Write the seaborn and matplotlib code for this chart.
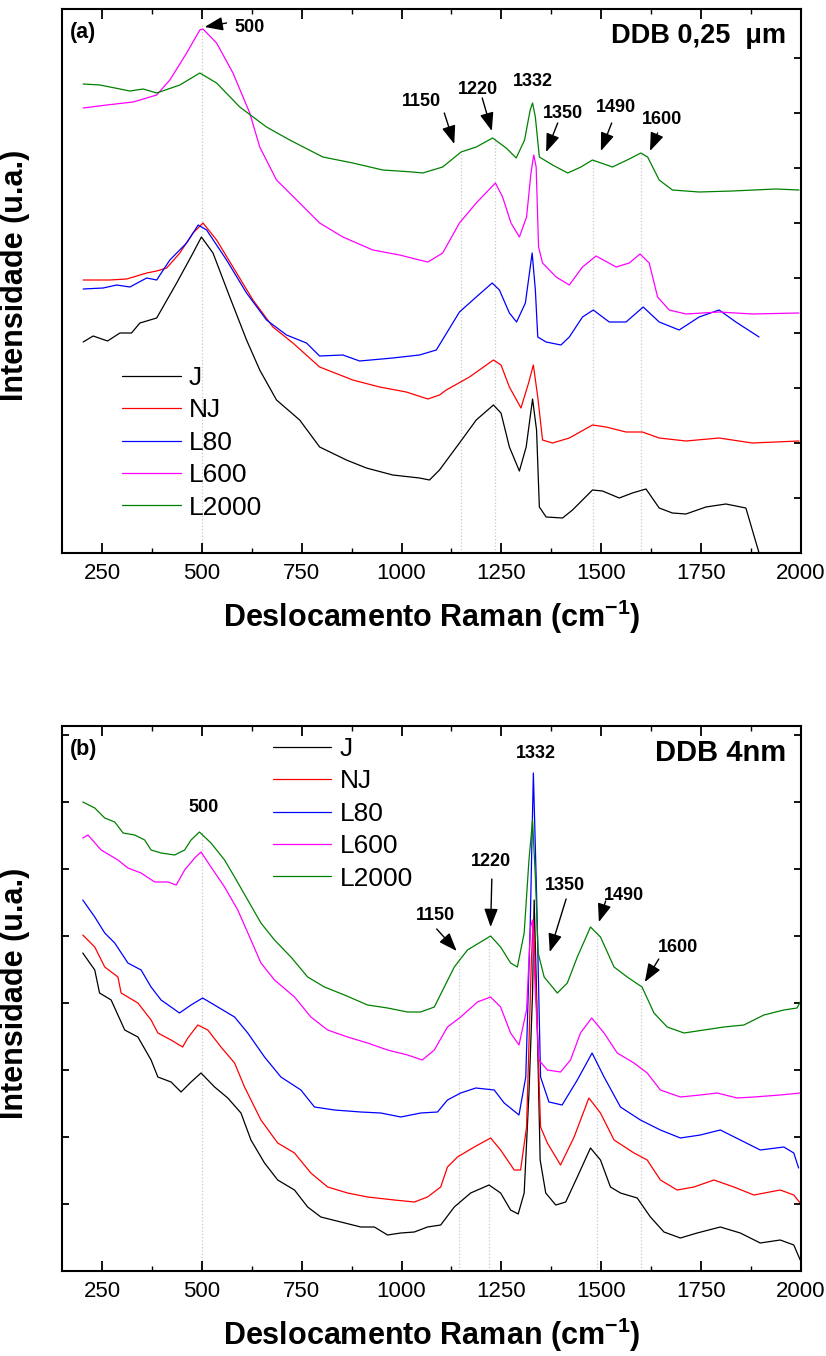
import matplotlib
matplotlib.use("Agg")
import matplotlib.pyplot as plt
from matplotlib.ticker import MultipleLocator, NullLocator
import pandas as pd
import seaborn as sns

amostras = ["J", "NJ", "L80", "L600", "L2000"]
cores = ["#000000", "#ff0000", "#0000ff", "#ff00ff", "#008000"]

# ---- (a) DDB 0,25 um  (intensidade em u.a.)
a_J_x = [203, 228, 264, 295, 324, 345, 387, 437, 478, 499, 528, 570, 612, 645, 687, 745, 795, 862, 912, 978,
         1045, 1070, 1095, 1145, 1187, 1230, 1249, 1270, 1295, 1312, 1328, 1338, 1345, 1362, 1403, 1428, 1478,
         1503, 1545, 1578, 1612, 1645, 1678, 1712, 1762, 1812, 1862, 1895, 1905]
a_J_y = [211, 217, 212, 220, 220, 230, 235, 270, 300, 316, 300, 256, 213, 183, 153, 133, 106, 93, 85, 78,
         75, 73, 83, 110, 133, 148, 140, 106, 82, 106, 154, 123, 46, 36, 35, 43, 63,
         62, 55, 60, 64, 45, 40, 39, 46, 49, 45, 0, -20]

a_NJ_x = [203, 270, 312, 362, 387, 412, 445, 478, 503, 537, 578, 628, 678, 728, 795, 878, 945, 1012, 1066, 1095,
          1112, 1170, 1230, 1249, 1270, 1299, 1318, 1330, 1341, 1353, 1378, 1420, 1478, 1512, 1562, 1603, 1645,
          1712, 1795, 1878, 1995]
a_NJ_y = [273, 273, 274, 280, 282, 285, 300, 320, 330, 313, 286, 253, 226, 210, 186, 173, 166, 161, 154, 158,
          163, 176, 193, 188, 166, 145, 170, 188, 156, 113, 110, 115, 128, 126, 121, 121, 115,
          112, 115, 110, 112]

a_L80_x = [203, 253, 287, 320, 362, 387, 420, 462, 491, 512, 562, 612, 662, 712, 762, 795, 853, 895, 978, 1045,
           1087, 1145, 1187, 1227, 1245, 1270, 1288, 1310, 1327, 1335, 1341, 1362, 1399, 1420, 1453, 1480, 1520,
           1562, 1605, 1645, 1695, 1745, 1795, 1837, 1895]
a_L80_y = [264, 265, 268, 266, 275, 273, 293, 310, 328, 323, 293, 260, 233, 218, 210, 197, 198, 192, 195, 198,
           203, 241, 256, 270, 263, 240, 231, 250, 300, 263, 216, 211, 208, 216, 236, 243, 231,
           231, 246, 231, 223, 236, 243, 231, 216]

a_L600_x = [203, 262, 328, 387, 420, 462, 495, 503, 537, 578, 620, 645, 687, 745, 795, 853, 928, 995, 1045, 1066,
            1103, 1145, 1187, 1235, 1253, 1274, 1295, 1313, 1324, 1331, 1337, 1343, 1353, 1387, 1420, 1453, 1487,
            1537, 1570, 1597, 1620, 1641, 1670, 1712, 1795, 1878, 1995]
a_L600_y = [445, 448, 451, 458, 473, 500, 523, 524, 510, 480, 440, 406, 373, 350, 330, 316, 303, 298, 293, 291,
            300, 330, 350, 370, 356, 330, 316, 336, 380, 398, 386, 306, 290, 276, 268, 286, 297,
            286, 290, 299, 290, 256, 243, 239, 241, 239, 240]

a_L2000_x = [203, 245, 320, 353, 387, 445, 495, 537, 595, 662, 720, 803, 878, 953, 1028, 1053, 1103, 1149, 1187,
             1228, 1262, 1287, 1308, 1322, 1328, 1335, 1345, 1378, 1416, 1449, 1478, 1528, 1570, 1599, 1616, 1645,
             1678, 1745, 1828, 1937, 1995]
a_L2000_y = [469, 468, 462, 464, 460, 468, 480, 470, 446, 426, 413, 396, 390, 383, 381, 380, 386, 401, 406,
             415, 405, 395, 413, 443, 450, 436, 396, 388, 380, 386, 393, 386, 394, 400, 396, 373,
             363, 361, 362, 364, 363]

# ---- (b) DDB 4nm
b_J_x = [202, 232, 244, 273, 307, 340, 373, 390, 423, 448, 473, 498, 532, 565, 598, 623, 657, 690, 732, 765, 798,
         848, 898, 932, 965, 998, 1032, 1065, 1098, 1132, 1173, 1219, 1248, 1273, 1292, 1307, 1319, 1328, 1332,
         1338, 1347, 1361, 1386, 1411, 1440, 1473, 1498, 1523, 1548, 1590, 1623, 1657, 1698, 1740, 1798, 1848,
         1898, 1948, 1982, 1998]
b_J_y = [318, 301, 278, 271, 241, 234, 211, 194, 189, 179, 189, 198, 184, 173, 158, 131, 108, 91, 81, 64, 54,
         49, 44, 44, 36, 38, 39, 44, 46, 64, 78, 86, 78, 61, 57, 78, 178, 278, 371,
         278, 111, 78, 66, 69, 94, 123, 111, 84, 78, 73, 54, 39, 33, 38, 44, 38,
         28, 31, 26, 11]

b_NJ_x = [202, 232, 257, 290, 298, 340, 373, 390, 423, 452, 465, 490, 515, 548, 582, 607, 648, 690, 732, 773, 815,
          865, 915, 982, 1032, 1065, 1098, 1115, 1140, 1182, 1223, 1248, 1282, 1298, 1313, 1325, 1330, 1337, 1348,
          1365, 1398, 1432, 1469, 1498, 1532, 1582, 1615, 1648, 1690, 1732, 1782, 1832, 1882, 1948, 1982, 1998]
b_NJ_y = [336, 324, 304, 294, 278, 268, 251, 238, 231, 224, 233, 246, 241, 224, 208, 184, 151, 128, 118, 98, 84,
          78, 74, 71, 69, 74, 84, 104, 114, 124, 133, 121, 101, 101, 144, 311, 351, 278, 144,
          128, 106, 134, 173, 158, 131, 118, 111, 91, 81, 84, 91, 84, 76, 81, 76, 68]

b_L80_x = [202, 232, 257, 282, 315, 348, 373, 398, 423, 444, 473, 502, 540, 582, 615, 657, 698, 748, 782, 832, 898,
           948, 998, 1048, 1090, 1115, 1148, 1186, 1232, 1257, 1294, 1311, 1322, 1330, 1338, 1348, 1369, 1402,
           1440, 1477, 1507, 1548, 1598, 1648, 1698, 1748, 1798, 1848, 1898, 1957, 1982, 1994]
b_L80_y = [371, 354, 338, 328, 308, 301, 284, 271, 264, 258, 266, 273, 264, 254, 238, 214, 194, 181, 164, 161, 159,
           158, 154, 158, 159, 171, 178, 183, 181, 168, 156, 194, 344, 498, 378, 194, 169, 166,
           191, 218, 194, 164, 151, 141, 133, 136, 141, 131, 121, 124, 118, 103]

b_L600_x = [202, 215, 248, 290, 315, 348, 382, 415, 436, 457, 482, 498, 523, 557, 590, 623, 648, 682, 732, 773,
            815, 865, 915, 965, 1015, 1052, 1082, 1115, 1148, 1190, 1223, 1248, 1273, 1294, 1313, 1323, 1328,
            1335, 1344, 1365, 1398, 1423, 1448, 1476, 1507, 1540, 1582, 1615, 1648, 1698, 1748, 1790, 1840,
            1882, 1948, 1998]
b_L600_y = [433, 436, 421, 411, 403, 398, 389, 389, 386, 401, 413, 419, 404, 384, 361, 331, 308, 291, 274, 254,
            241, 234, 228, 221, 216, 211, 221, 244, 254, 269, 274, 264, 238, 226, 261, 344, 351,
            278, 211, 201, 199, 211, 238, 253, 238, 218, 208, 198, 181, 174, 176, 178, 173,
            174, 176, 178]

b_L2000_x = [202, 232, 257, 282, 303, 332, 357, 373, 398, 432, 457, 473, 494, 523, 557, 582, 615, 648, 682, 723,
             765, 807, 857, 915, 965, 1015, 1048, 1082, 1107, 1132, 1165, 1198, 1223, 1248, 1273, 1290, 1307,
             1319, 1328, 1335, 1342, 1357, 1390, 1415, 1440, 1473, 1498, 1532, 1565, 1602, 1632, 1665, 1707,
             1757, 1807, 1857, 1907, 1957, 1990, 1998]
b_L2000_y = [469, 463, 453, 449, 438, 436, 431, 421, 418, 416, 421, 431, 439, 428, 411, 394, 371, 348, 331, 314,
             294, 284, 276, 266, 263, 259, 259, 264, 284, 304, 321, 329, 335, 324, 308, 304, 338,
             411, 451, 394, 318, 294, 278, 288, 314, 344, 334, 304, 294, 284, 258, 244, 238,
             241, 244, 246, 256, 261, 263, 269]

# picos marcados (linhas pontilhadas)
a_picos = [500, 1150, 1235, 1480, 1600]
a_picos_top = [530, 401, 415, 393, 400]
b_picos = [500, 1145, 1220, 1490, 1600]
b_picos_top = [440, 318, 335, 340, 284]

# rotulos: (texto, posicao do texto, cauda da seta, ponta da seta)
a_rotulos = [
    ("500", (620, 526), (562, 530), (507, 526)),
    ("1150", (1049, 451), (1107, 440), (1132, 409)),
    ("1220", (1191, 463), (1202, 455), (1226, 422)),
    ("1332", (1328, 471), None, None),
    ("1350", (1403, 440), (1391, 430), (1362, 401)),
    ("1490", (1537, 445), (1526, 430), (1499, 402)),
    ("1600", (1653, 433), (1641, 420), (1622, 402)),
]
b_rotulos = [
    ("500", (505, 463), None, None),
    ("1332", (1336, 518), None, None),
    ("1150", (1084, 356), (1088, 342), (1138, 320)),
    ("1220", (1223, 409), (1226, 392), (1223, 344)),
    ("1350", (1409, 385), (1412, 372), (1371, 319)),
    ("1490", (1557, 376), (1511, 370), (1494, 349)),
    ("1600", (1691, 324), (1644, 312), (1609, 289)),
]


def long_df(series):
    frames = []
    for nome, (xs, ys) in zip(amostras, series):
        frames.append(pd.DataFrame({"raman": xs, "intens": ys, "amostra": nome}))
    return pd.concat(frames, ignore_index=True)


sns.set_style("ticks")
plt.rcParams["font.family"] = ["Liberation Sans", "DejaVu Sans"]
plt.rcParams["mathtext.fontset"] = "custom"
plt.rcParams["mathtext.rm"] = "Liberation Sans"
plt.rcParams["mathtext.bf"] = "Liberation Sans:bold"
for k in ["text.color", "axes.labelcolor", "xtick.color", "ytick.color", "axes.edgecolor"]:
    plt.rcParams[k] = "black"

fig = plt.figure(figsize=(8.26, 13.56), dpi=100)
ax1 = fig.add_axes([62 / 826, (1356 - 553) / 1356, 739 / 826, 544 / 1356])
ax2 = fig.add_axes([62 / 826, (1356 - 1271) / 1356, 739 / 826, 545 / 1356])

df_a = long_df([(a_J_x, a_J_y), (a_NJ_x, a_NJ_y), (a_L80_x, a_L80_y),
                (a_L600_x, a_L600_y), (a_L2000_x, a_L2000_y)])
df_b = long_df([(b_J_x, b_J_y), (b_NJ_x, b_NJ_y), (b_L80_x, b_L80_y),
                (b_L600_x, b_L600_y), (b_L2000_x, b_L2000_y)])

# (ax, dados, picos, topos, rotulos, ymax, letra, titulo, tam. titulo, legenda, passo y, ticks esq.)
paineis = [
    (ax1, df_a, a_picos, a_picos_top, a_rotulos, 544, "(a)", "DDB 0,25  \u03bcm", 19.5,
     (0.081, 0.344), 55, False),
    (ax2, df_b, b_picos, b_picos_top, b_rotulos, 545, "(b)", "DDB 4nm", 21,
     (0.285, 0.98), 67, True),
]

for ax, df, picos, topos, rotulos, ymax, letra, titulo, tsize, leg_pos, ystep, yleft in paineis:
    ax.vlines(picos, 0, topos, colors="#c8c8c8", linestyles=":", linewidth=0.9, zorder=0)
    sns.lineplot(data=df, x="raman", y="intens", hue="amostra", hue_order=amostras,
                 palette=cores, estimator=None, sort=False, linewidth=0.9, ax=ax)
    ax.set_xlim(150, 2000)
    ax.set_ylim(0, ymax)
    ax.xaxis.set_major_locator(MultipleLocator(250))
    ax.xaxis.set_minor_locator(MultipleLocator(125))
    ax.yaxis.set_major_locator(MultipleLocator(ystep))
    ax.yaxis.set_minor_locator(NullLocator())
    ax.tick_params(which="both", direction="in", top=True, right=True)
    ax.tick_params(which="major", length=7, width=1.3, labelsize=16, pad=7)
    ax.tick_params(which="minor", length=3.5, width=1.0)
    ax.tick_params(axis="y", which="major", length=5, labelleft=False, left=yleft)
    for sp in ax.spines.values():
        sp.set_linewidth(1.5)

    ax.set_xlabel(r"Deslocamento Raman (cm$^{\mathbf{-1}}$)", fontsize=22,
                  fontweight="bold", labelpad=10)
    ax.set_ylabel("Intensidade (u.a.)", fontsize=22, fontweight="bold")
    ax.yaxis.set_label_coords(-0.043, 0.51)

    for txt, pos, tail, tip in rotulos:
        ax.text(pos[0], pos[1], txt, fontsize=13, fontweight="bold", ha="center", va="center")
        if tail is not None:
            ax.annotate("", xy=tip, xytext=tail,
                        arrowprops=dict(arrowstyle="-|>,head_length=0.8,head_width=0.3",
                                        color="black", lw=1.0, shrinkA=0, shrinkB=0,
                                        mutation_scale=14))

    ax.text(0.01, 0.956, letra, transform=ax.transAxes, fontsize=15.5, fontweight="bold",
            ha="left", va="center")
    ax.text(0.98, 0.95, titulo, transform=ax.transAxes, fontsize=tsize, fontweight="bold",
            ha="right", va="center")

    handles, labels = ax.get_legend_handles_labels()
    ax.legend(handles, labels, loc="upper left", bbox_to_anchor=leg_pos, frameon=False,
              fontsize=19, handlelength=2.23, handletextpad=0.3, labelspacing=0.32,
              borderpad=0, borderaxespad=0)

fig.savefig("out.png", dpi=100)
